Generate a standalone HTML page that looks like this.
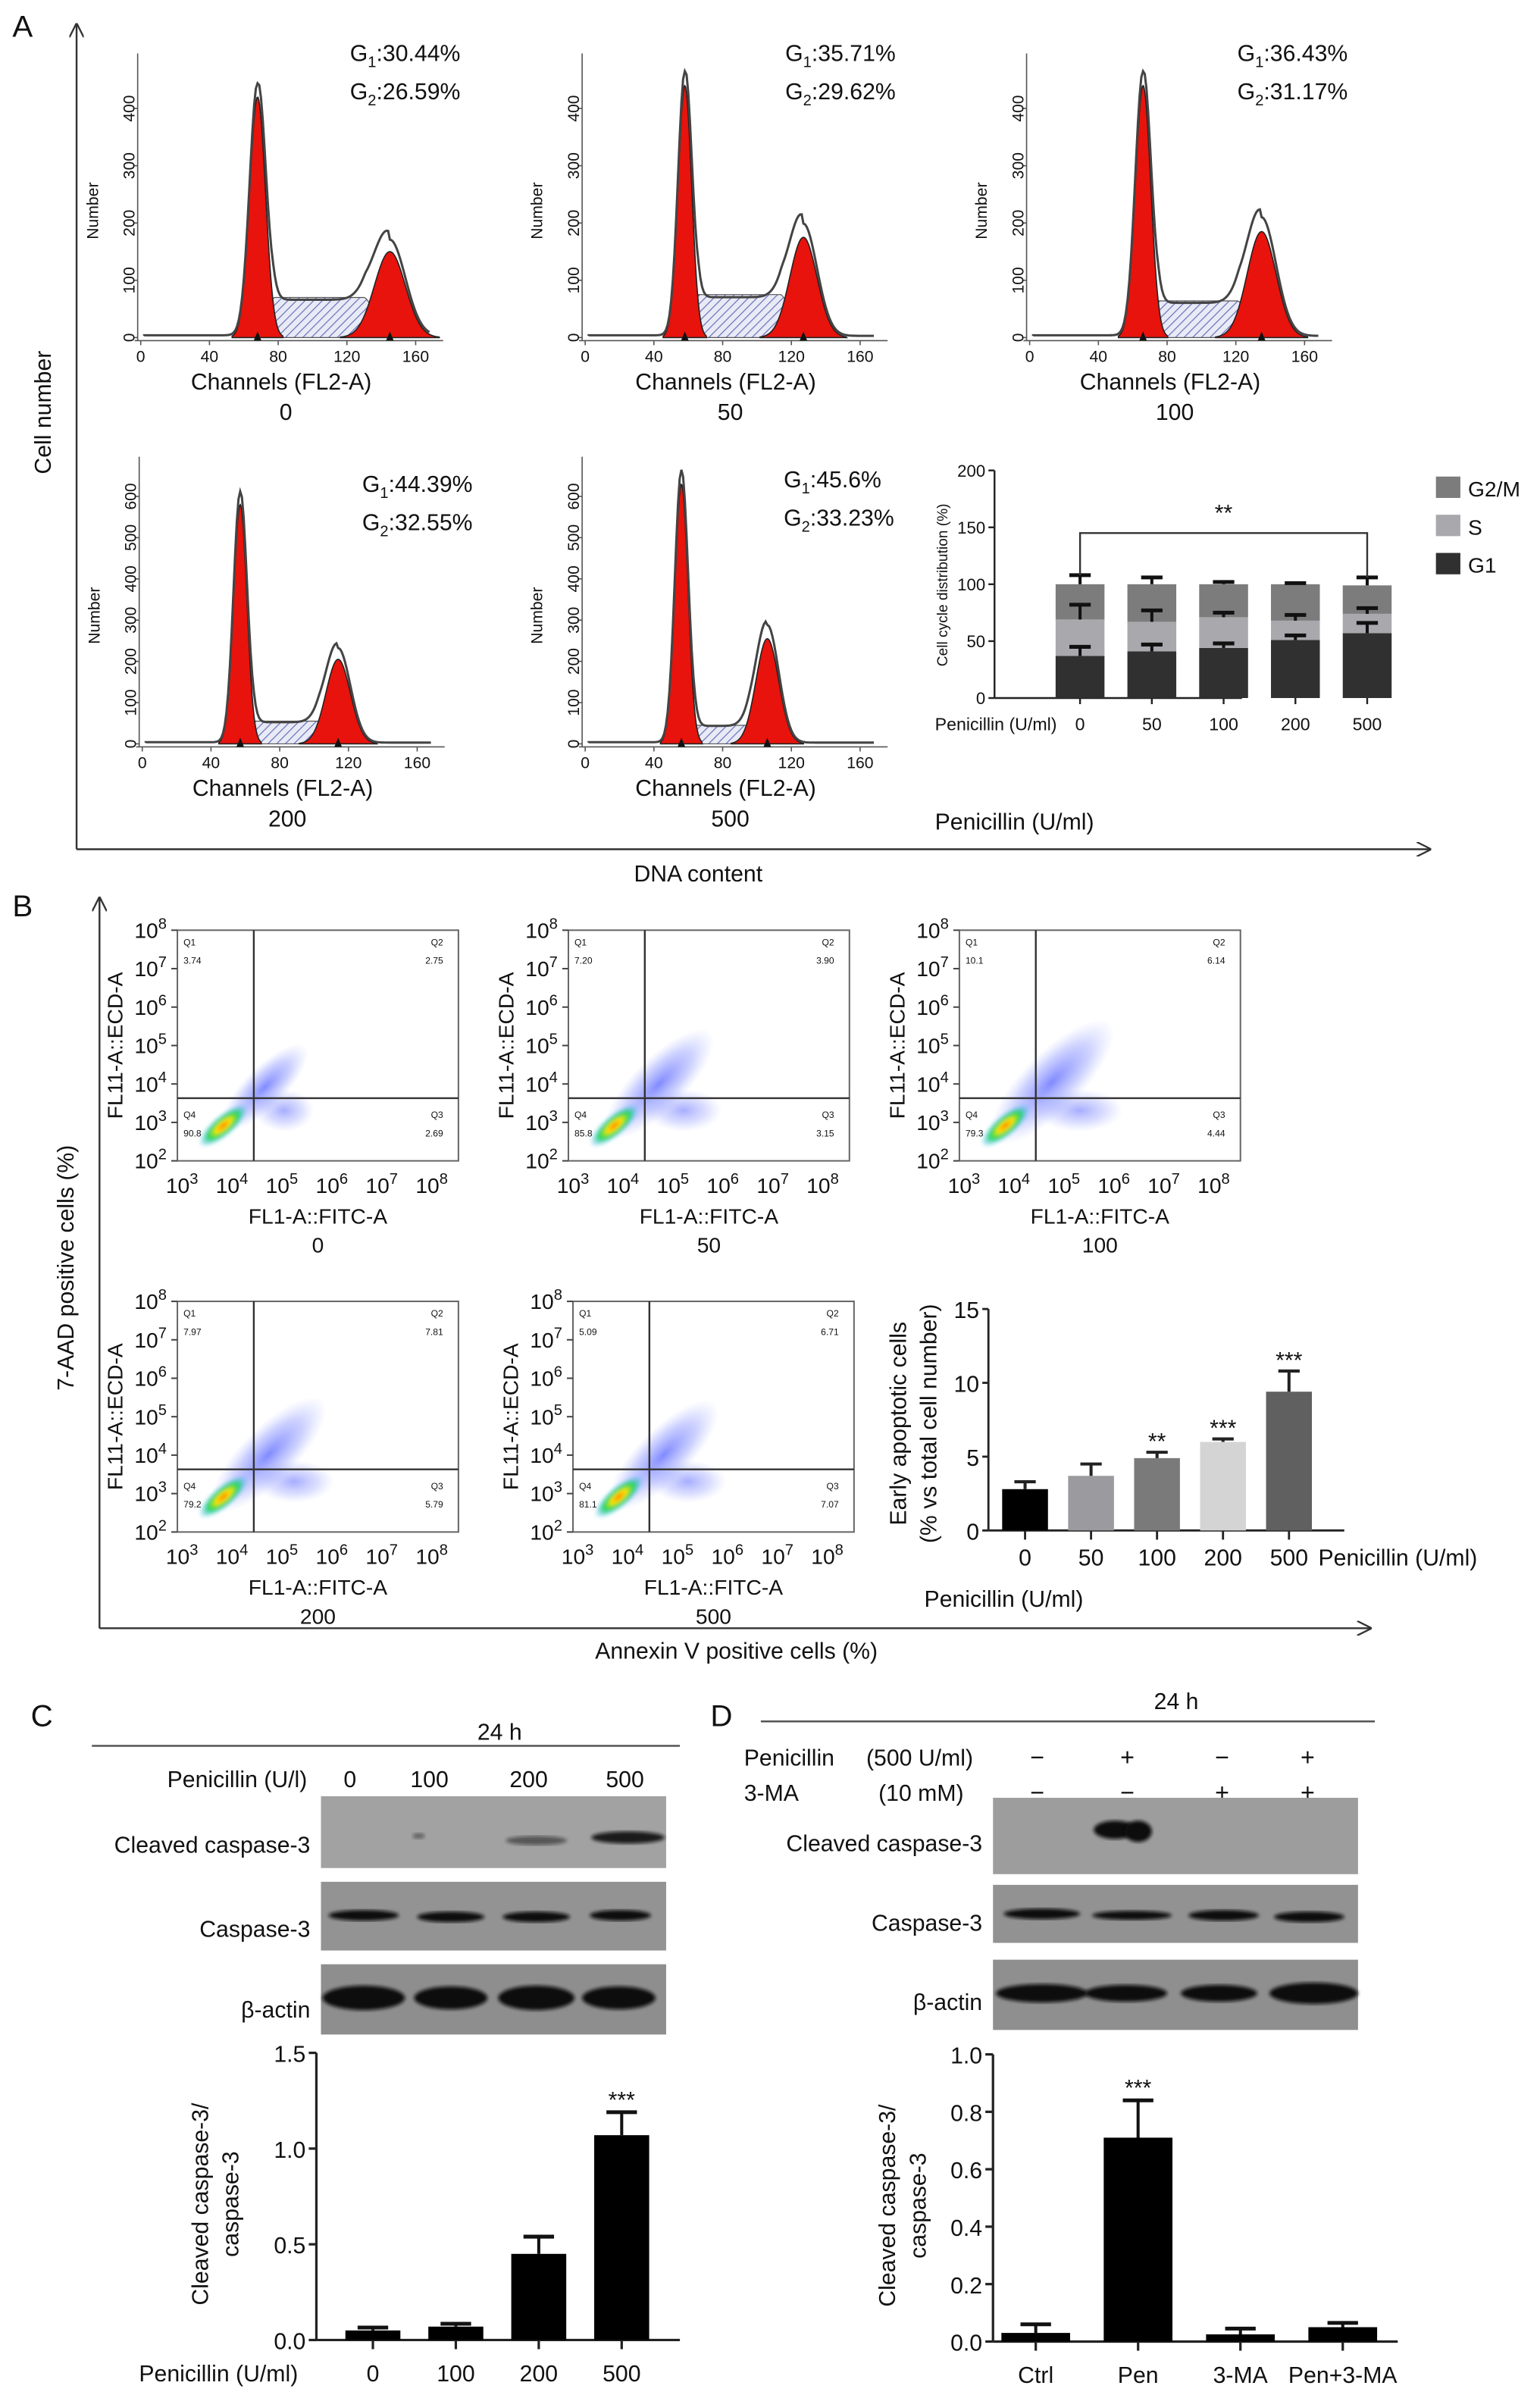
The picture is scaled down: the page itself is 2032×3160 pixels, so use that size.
<!DOCTYPE html>
<html><head><meta charset="utf-8"><style>
html,body{margin:0;padding:0;background:#fff}
svg{display:block}
text{font-family:"Liberation Sans",Arial,sans-serif;fill:#111}
</style></head><body>
<svg id="fig" width="2032" height="3160" viewBox="0 0 1008 1568" xmlns="http://www.w3.org/2000/svg">
<defs>
<pattern id="hatch" width="4" height="4" patternUnits="userSpaceOnUse" patternTransform="rotate(45)"><rect width="4" height="4" fill="#e8eaf6"/><line x1="0" y1="0" x2="0" y2="4" stroke="#6a70b8" stroke-width="1.2"/></pattern>
<radialGradient id="blue" cx="0.5" cy="0.5" r="0.5"><stop offset="0" stop-color="#2d3cff" stop-opacity="0.6"/><stop offset="0.6" stop-color="#5060ff" stop-opacity="0.28"/><stop offset="1" stop-color="#8090ff" stop-opacity="0"/></radialGradient>
<radialGradient id="hot" cx="0.5" cy="0.5" r="0.5"><stop offset="0" stop-color="#ff6a00"/><stop offset="0.3" stop-color="#ffe600"/><stop offset="0.6" stop-color="#1fd65a"/><stop offset="1" stop-color="#1aa6ff" stop-opacity="0"/></radialGradient>
<filter id="blur1"><feGaussianBlur stdDeviation="1.2"/></filter>
<marker id="arr" viewBox="0 0 10 10" refX="9" refY="5" markerWidth="8" markerHeight="8" orient="auto"><path d="M0,0 L10,5 L0,10" fill="none" stroke="#333" stroke-width="1.2"/></marker>
</defs>
<g id="root"></g>
</svg>
<script>
// ===== Panel A histogram data =====
const histLabels = ["0","50","100","200","500"];
const g1Text = ["30.44%","35.71%","36.43%","44.39%","45.6%"];
const g2Text = ["26.59%","29.62%","31.17%","32.55%","33.23%"];
const g1Pos = [68,58,66,57,56];
const g1Height = [420,440,440,580,630];
const g2Pos = [145,127,135,114,106];
const g2Height = [150,175,185,205,255];
const sLevel = [70,75,64,55,45];
const histYMax = [400,400,400,600,600];
const histXTicks = [0,40,80,120,160];
// ===== Panel A stacked bar data =====
const ccCats = ["0","50","100","200","500"];
const ccG1 = [37,41,44,51,57];
const ccS = [32,26,27,17,17];
const ccG2 = [31,33,29,32,25];
const ccG1Err = [8,6,4,4,9];
const ccSErr = [13,10,4,5,5];
const ccG2Err = [8,6,2,1,7];
const ccTicks = [0,50,100,150,200];
// ===== Panel B scatter quadrant values =====
const scLabels = ["0","50","100","200","500"];
const q1 = ["3.74","7.20","10.1","7.97","5.09"];
const q2 = ["2.75","3.90","6.14","7.81","6.71"];
const q3 = ["2.69","3.15","4.44","5.79","7.07"];
const q4 = ["90.8","85.8","79.3","79.2","81.1"];
// ===== Panel B bar data =====
const apCats = ["0","50","100","200","500"];
const apVals = [2.8,3.7,4.9,6.0,9.4];
const apErr = [0.5,0.8,0.4,0.2,1.4];
const apSig = ["","","**","***","***"];
const apTicks = [0,5,10,15];
// ===== Panel C =====
const cCats = ["0","100","200","500"];
const cVals = [0.05,0.07,0.45,1.07];
const cErr = [0.015,0.015,0.09,0.12];
const cTicks = ["0.0","0.5","1.0","1.5"];
// ===== Panel D =====
const dCats = ["Ctrl","Pen","3-MA","Pen+3-MA"];
const dVals = [0.03,0.71,0.025,0.05];
const dErr = [0.03,0.13,0.02,0.015];
const dTicks = ["0.0","0.2","0.4","0.6","0.8","1.0"];

const NS="http://www.w3.org/2000/svg";
const root=document.getElementById('root');
function mk(tag,attrs,parent,txt){const e=document.createElementNS(NS,tag);for(const k in attrs)e.setAttribute(k,attrs[k]);if(txt!==undefined)e.textContent=txt;(parent||root).appendChild(e);return e;}
function T(x,y,s,size,anchor,parent,extra){const e=mk('text',Object.assign({x:x,y:y,'font-size':size||15,'text-anchor':anchor||'start'},extra||{}),parent,s);return e;}
function L(x1,y1,x2,y2,w,parent,col){return mk('line',{x1:x1,y1:y1,x2:x2,y2:y2,stroke:col||'#222','stroke-width':w||1},parent);}

let e;
e=T(8,24,"A",20);
e=T(8,600,"B",20);
e=T(20,1130,"C",20);
e=T(465,1130,"D",20);
e=mk('line',{x1:50,y1:556,x2:50,y2:16,stroke:'#333','stroke-width':1.2,'marker-end':'url(#arr)'});
e=mk('line',{x1:50,y1:556,x2:936,y2:556,stroke:'#333','stroke-width':1.2,'marker-end':'url(#arr)'});
e=T(33,270,"Cell number",15,'middle',null,{transform:'rotate(-90 33 270)'});
e=T(457,577,"DNA content",15,'middle');
e=mk('line',{x1:65,y1:1066,x2:65,y2:588,stroke:'#333','stroke-width':1.2,'marker-end':'url(#arr)'});
e=mk('line',{x1:65,y1:1066,x2:897,y2:1066,stroke:'#333','stroke-width':1.2,'marker-end':'url(#arr)'});
e=T(48,830,"7-AAD positive cells (%)",15,'middle',null,{transform:'rotate(-90 48 830)'});
e=T(482,1086,"Annexin V positive cells (%)",15,'middle');

// ===== Histograms =====
const histPos=[[92,221,71,35],[383,221,71,35],[674,221,71,35],[93,487,325,299],[383,487,325,299]];
const histTextPos=[[229,40],[514,40],[810,40],[237,322],[513,319]];
function gauss(c,mu,sd,h){return h*Math.exp(-0.5*((c-mu)/sd)**2);}
for(let i=0;i<5;i++){
  const [x0,y0,yTop,axTop]=histPos[i];
  const g=mk('g',{});
  const xs=c=>x0+c*1.125;
  const ys=v=>y0-v*((y0-yTop)/histYMax[i]);
  const s1=g1Pos[i]*0.068, s2=g2Pos[i]*0.062;
  let d='M'+xs(g1Pos[i])+','+ys(0);
  for(let c=g1Pos[i];c<=g2Pos[i];c+=1){d+=' L'+xs(c)+','+ys(sLevel[i]*Math.min(1,(c-g1Pos[i])/(2*s1))*Math.min(1,(g2Pos[i]-c)/(2*s2)+0.2));}
  d+=' L'+xs(g2Pos[i])+','+ys(0)+'Z';
  e=mk('path',{d:d,fill:'url(#hatch)',stroke:'#555','stroke-width':0.6},g);
  [[g1Pos[i],s1,g1Height[i],'g1-peak'],[g2Pos[i],s2,g2Height[i],'g2-peak']].forEach(p=>{
    let pd='M'+xs(p[0]-3.2*p[1])+','+ys(0);
    for(let c=p[0]-3.2*p[1];c<=p[0]+3.2*p[1];c+=0.5)pd+=' L'+xs(c)+','+ys(gauss(c,p[0],p[1],p[2]));
    pd+=' L'+xs(p[0]+3.2*p[1])+','+ys(0)+'Z';
    e=mk('path',{d:pd,fill:'#e8130c',stroke:'#222','stroke-width':0.8},g);
  });
  let od='M'+xs(2)+','+ys(3);
  for(let c=2;c<=168;c+=1){
    let sv=(c>g1Pos[i]&&c<g2Pos[i])?sLevel[i]*Math.min(1,(c-g1Pos[i])/(2*s1))*Math.min(1,(g2Pos[i]-c)/(2*s2)+0.2):0;
    let v=gauss(c,g1Pos[i],s1,g1Height[i]*1.05)+gauss(c,g2Pos[i],s2,g2Height[i]*1.12)+sv*0.9+(c<g1Pos[i]?4:3);
    od+=' L'+xs(c)+','+ys(v);
  }
  e=mk('path',{d:od,fill:'none',stroke:'#444','stroke-width':1.5},g);
  L(x0-2,axTop,x0-2,y0+2,0.8,g,'#555');L(x0-4,y0+2,x0+198,y0+2,0.8,g,'#555');
  histXTicks.forEach(t=>{L(xs(t),y0+2,xs(t),y0+5,0.8,g,'#555');e=T(xs(t),y0+16,String(t),10.5,'middle',g);});
  for(let v=0;v<=histYMax[i];v+=100){L(x0-5,ys(v),x0-2,ys(v),0.8,g,'#555');e=T(x0-8,ys(v)+4,String(v),10.5,'middle',g,{transform:'rotate(-90 '+(x0-8)+' '+ys(v)+')'});}
  const tm=(y0+axTop)/2+10;
  e=T(x0-28,tm,"Number",10.5,'middle',g,{transform:'rotate(-90 '+(x0-28)+' '+tm+')'});
  [g1Pos[i],g2Pos[i]].forEach(c=>mk('path',{d:`M${xs(c)-2.5},${y0+2} L${xs(c)+2.5},${y0+2} L${xs(c)},${y0-4}Z`,fill:'#111'},g));
  e=T(x0+92,y0+34,"Channels (FL2-A)",15,'middle',g);
  e=T(x0+95,y0+54,histLabels[i],15,'middle',g);
  const [tx,ty]=histTextPos[i];
  e=mk('text',{x:tx,y:ty,'font-size':15},g);e.innerHTML='G<tspan font-size="10" dy="4">1</tspan><tspan dy="-4">:'+g1Text[i]+'</tspan>';
  e=mk('text',{x:tx,y:ty+25,'font-size':15},g);e.innerHTML='G<tspan font-size="10" dy="4">2</tspan><tspan dy="-4">:'+g2Text[i]+'</tspan>';
}

// ===== Cell cycle stacked bars =====
{
  const g=mk('g',{});
  const ax=651,y0=457,yT=308,xEnd=813;
  const ys=v=>y0-v*(y0-yT)/200;
  const cx=i=>707+i*((895-707)/4);
  L(ax,yT,ax,y0,1.2,g);L(ax,y0,xEnd,y0,1.2,g);
  ccTicks.forEach(t=>{L(ax-4,ys(t),ax,ys(t),1.2,g);e=T(ax-6,ys(t)+4,String(t),11,'end',g);});
  e=T(620,383,"Cell cycle distribution (%)",9.5,'middle',g,{transform:'rotate(-90 620 383)'});
  e=T(612,478,"Penicillin (U/ml)",11.5,'start',g);
  const bw=32;
  ccCats.forEach((c,i)=>{
    const x=cx(i);
    L(x,y0,x,y0+4,1.2,g);
    e=T(x,478,c,11.5,'middle',g);
    const a=ccG1[i],b=a+ccS[i],t=b+ccG2[i];
    e=mk('rect',{x:x-bw/2,y:ys(a),width:bw,height:ys(0)-ys(a),fill:'#303030'},g);
    e=mk('rect',{x:x-bw/2,y:ys(b),width:bw,height:ys(a)-ys(b),fill:'#a8a8ad'},g);
    e=mk('rect',{x:x-bw/2,y:ys(t),width:bw,height:ys(b)-ys(t),fill:'#7c7c7c'},g);
    [[a,ccG1Err[i]],[b,ccSErr[i]],[t,ccG2Err[i]]].forEach(p=>{L(x,ys(p[0]),x,ys(p[0]+p[1]),2,g,'#111');L(x-7,ys(p[0]+p[1]),x+7,ys(p[0]+p[1]),2.5,g,'#111');});
  });
  const by=ys(145);
  mk('path',{d:`M${cx(0)},${ys(108)} L${cx(0)},${by} L${cx(4)},${by} L${cx(4)},${ys(106)}`,fill:'none',stroke:'#333','stroke-width':1.2},g);
  e=T((cx(0)+cx(4))/2,by-8,"**",15,'middle',g);
  const leg=[["G2/M","#7c7c7c"],["S","#a8a8ad"],["G1","#303030"]];
  leg.forEach((l,i)=>{const lg=mk('g',{},g);
    mk('rect',{x:940,y:312+i*25,width:16,height:14,fill:l[1]},lg);T(961,325+i*25,l[0],14,'start',lg);});
  e=T(612,543,"Penicillin (U/ml)",15,'start',g);
}

// ===== Scatter plots =====
const scPos=[[116,609,760],[372,609,760],[628,609,760],[116,852,1003],[375,852,1003]];
const spread=[0.9,1.15,1.3,1.2,1.15];
for(let i=0;i<5;i++){
  const [x0,yT,yB]=scPos[i];const w=184;const x1=x0+w;
  const g=mk('g',{});
  const dec=(yB-yT)/6, decx=32.7;
  const qx=x0+1.53*decx, qy=yB-1.63*dec;
  const cl=mk('clipPath',{id:'cl'+i},g);mk('rect',{x:x0,y:yT,width:w,height:yB-yT},cl);
  const dg=mk('g',{'clip-path':'url(#cl'+i+')'},g);
  const s=spread[i];
  e=mk('ellipse',{cx:qx+8*s,cy:qy-8*s,rx:42*s,ry:15*s,fill:'url(#blue)',transform:`rotate(-45 ${qx+8*s} ${qy-8*s})`},dg);
  e=mk('ellipse',{cx:qx+22*s,cy:qy+8,rx:22*s,ry:14,fill:'url(#blue)',opacity:0.7},dg);
  e=mk('ellipse',{cx:qx-20,cy:qy+18,rx:20,ry:7,fill:'url(#hot)',transform:`rotate(-40 ${qx-20} ${qy+18})`,filter:'url(#blur1)'},dg);
  mk('rect',{x:x0,y:yT,width:w,height:yB-yT,fill:'none',stroke:'#666','stroke-width':1},g);
  L(qx,yT,qx,yB,1.2,g,'#333');L(x0,qy,x1,qy,1.2,g,'#333');
  [[x0+4,yT+10,'Q1'],[x0+4,yT+22,q1[i]],[x1-10,yT+10,'Q2','end'],[x1-10,yT+22,q2[i],'end'],[x0+4,yB-28,'Q4'],[x0+4,yB-16,q4[i]],[x1-10,yB-28,'Q3','end'],[x1-10,yB-16,q3[i],'end']].forEach(q=>{e=T(q[0],q[1],q[2],6,q[3]||'start',g,{fill:'#555'});});
  for(let k=0;k<=6;k++){
    const yy=yB-k*dec;L(x0-4,yy,x0,yy,1,g,'#444');
    e=mk('text',{x:x0-7,y:yy+5,'font-size':14,'text-anchor':'end'},g);e.innerHTML='10<tspan font-size="10" dy="-6">'+(k+2)+'</tspan>';
  }
  for(let k=0;k<=5;k++){
    const xx=x0+k*decx;
    e=mk('text',{x:xx+3,y:yB+21,'font-size':14,'text-anchor':'middle'},g);e.innerHTML='10<tspan font-size="10" dy="-6">'+(k+3)+'</tspan>';
  }
  const ym=(yT+yB)/2;
  e=T(x0-36,ym,"FL11-A::ECD-A",14,'middle',g,{transform:`rotate(-90 ${x0-36} ${ym})`});
  e=T(x0+w/2,yB+41,"FL1-A::FITC-A",14,'middle',g);
  e=T(x0+w/2,yB+60,scLabels[i],14,'middle',g);
}

// ===== Early apoptotic bars =====
{
  const g=mk('g',{});
  const ax=647,y0=1002,yT=857;const ys=v=>y0-v*(y0-yT)/15;
  const cx=i=>671+i*43.2;const cols=['#000','#9a9a9f','#7a7a7a','#d4d4d4','#606060'];
  L(ax,yT,ax,y0,1.4,g);L(ax,y0,880,y0,1.4,g);
  apTicks.forEach(t=>{L(ax-4,ys(t),ax,ys(t),1.4,g);e=T(ax-6,ys(t)+6,String(t),15,'end',g);});
  apCats.forEach((c,i)=>{const x=cx(i);
    L(x,y0,x,y0+6,1.4,g);e=T(x,1025,c,15,'middle',g);
    e=mk('rect',{x:x-15,y:ys(apVals[i]),width:30,height:y0-ys(apVals[i]),fill:cols[i]},g);
    const te=ys(apVals[i]+apErr[i]);L(x,ys(apVals[i]),x,te,2,g,'#222');L(x-7,te,x+7,te,2,g,'#222');
    if(apSig[i]){e=T(x,te-2,apSig[i],15,'middle',g,{fill:'#333'});}
  });
  e=T(863,1025,"Penicillin (U/ml)",15,'start',g);
  e=T(593,932,"Early apoptotic cells",15,'middle',g,{transform:'rotate(-90 593 932)'});
  e=T(613,932,"(% vs total cell number)",15,'middle',g,{transform:'rotate(-90 613 932)'});
  e=T(605,1052,"Penicillin (U/ml)",15,'start',g);
}

// ===== Blots =====
function blot(g,x,y,w,h,bg,name,bands){
  const bg2=mk('g',{},g);
  mk('rect',{x:x,y:y,width:w,height:h,fill:bg},bg2);
  bands.forEach(b=>{mk('ellipse',{cx:b[0],cy:b[1],rx:b[2],ry:b[3],fill:'#111',opacity:b[4]||1,filter:'url(#blur1)'},bg2);});
}
{
  const g=mk('g',{});
  e=T(327,1139,"24 h",15,'middle',g);L(60,1143,445,1143,1.2,g,'#555');
  e=T(201,1170,"Penicillin (U/l)",15,'end',g);
  [["0",229],["100",281],["200",346],["500",409]].forEach(p=>{e=T(p[1],1170,p[0],15,'middle',g);});
  blot(g,210,1176,226,47,'#a2a2a2','cleaved-caspase-3-blot',[[274,1202,4,2,0.4],[351,1205,20,3,0.5],[411,1203,24,4,0.9]]);
  blot(g,210,1232,226,45,'#939393','caspase-3-blot',[[238,1254,23,3.5],[295,1255,22,3.5],[351,1255,22,3.5],[406,1254,20,3.5]]);
  blot(g,210,1286,226,46,'#8e8e8e','beta-actin-blot',[[238,1308,27,8],[295,1308,24,7.5],[351,1308,25,8],[405,1308,24,7.5]]);
  [["Cleaved caspase-3",1213],["Caspase-3",1268],["β-actin",1321]].forEach(p=>{e=T(203,p[1],p[0],15,'end',g);});
}
{
  const g=mk('g',{});
  e=T(770,1119,"24 h",15,'middle',g);L(498,1127,900,1127,1.2,g,'#555');
  e=T(487,1156,"Penicillin",15,'start',g);
  e=T(567,1156,"(500 U/ml)",15,'start',g);
  e=T(487,1179,"3-MA",15,'start',g);
  e=T(575,1179,"(10 mM)",15,'start',g);
  const r1=["−","+","−","+"],r2=["−","−","+","+"],sx=[679,738,800,856];
  sx.forEach((x,i)=>{e=T(x,1156,r1[i],16,'middle',g);e=T(x,1179,r2[i],16,'middle',g);});
  blot(g,650,1177,239,50,'#9d9d9d','cleaved-caspase-3-blot',[[730,1198,14,6],[745,1199,9,7]]);
  blot(g,650,1234,239,38,'#929292','caspase-3-blot',[[682,1253,25,3.5],[741,1254,26,3],[801,1254,23,3.5],[857,1255,23,3.5]]);
  blot(g,650,1283,239,46,'#8f8f8f','beta-actin-blot',[[682,1305,30,6],[737,1305,27,5.5],[798,1305,25,5.5],[860,1305,29,7]]);
  [["Cleaved caspase-3",1212],["Caspase-3",1264],["β-actin",1316]].forEach(p=>{e=T(643,p[1],p[0],15,'end',g);});
}

// ===== Caspase bar charts =====
function ratioChart(name,cats,vals,errs,ticks,ax,y0,yT,xEnd,cx0,dx,bw,sigIdx,ytx,xlab){
  const g=mk('g',{});
  const vmax=parseFloat(ticks[ticks.length-1]);const ys=v=>y0-v*(y0-yT)/vmax;
  L(ax,yT,ax,y0,1.6,g);L(ax,y0,xEnd,y0,1.6,g);
  ticks.forEach(t=>{const v=parseFloat(t);L(ax-5,ys(v),ax,ys(v),1.6,g);e=T(ax-7,ys(v)+6,t,15,'end',g);});
  cats.forEach((c,i)=>{const x=cx0+i*dx;
    L(x,y0,x,y0+6,1.6,g);e=T(x,y0+27,c,15,'middle',g);
    e=mk('rect',{x:x-bw/2,y:ys(vals[i]),width:bw,height:y0-ys(vals[i]),fill:'#000'},g);
    const te=ys(vals[i]+errs[i]);L(x,ys(vals[i]),x,te,2,g,'#111');L(x-10,te,x+10,te,2.5,g,'#111');
    if(i===sigIdx){e=T(x,te-3,"***",15,'middle',g,{fill:'#444'});}
  });
  const ym=(y0+yT)/2+5;
  e=T(ytx,ym,"Cleaved caspase-3/",15,'middle',g,{transform:`rotate(-90 ${ytx} ${ym})`});
  e=T(ytx+20,ym,"caspase-3",15,'middle',g,{transform:`rotate(-90 ${ytx+20} ${ym})`});
  if(xlab){e=T(195,y0+27,xlab,15,'end',g);}
}
ratioChart('panel-c-chart',cCats,cVals,cErr,cTicks,207,1532,1344,445,244,54.3,36,3,136,"Penicillin (U/ml)");
ratioChart('panel-d-chart',dCats,dVals,dErr,dTicks,650,1533,1345,915,678,67,45,1,586,null);
</script>
</body></html>
